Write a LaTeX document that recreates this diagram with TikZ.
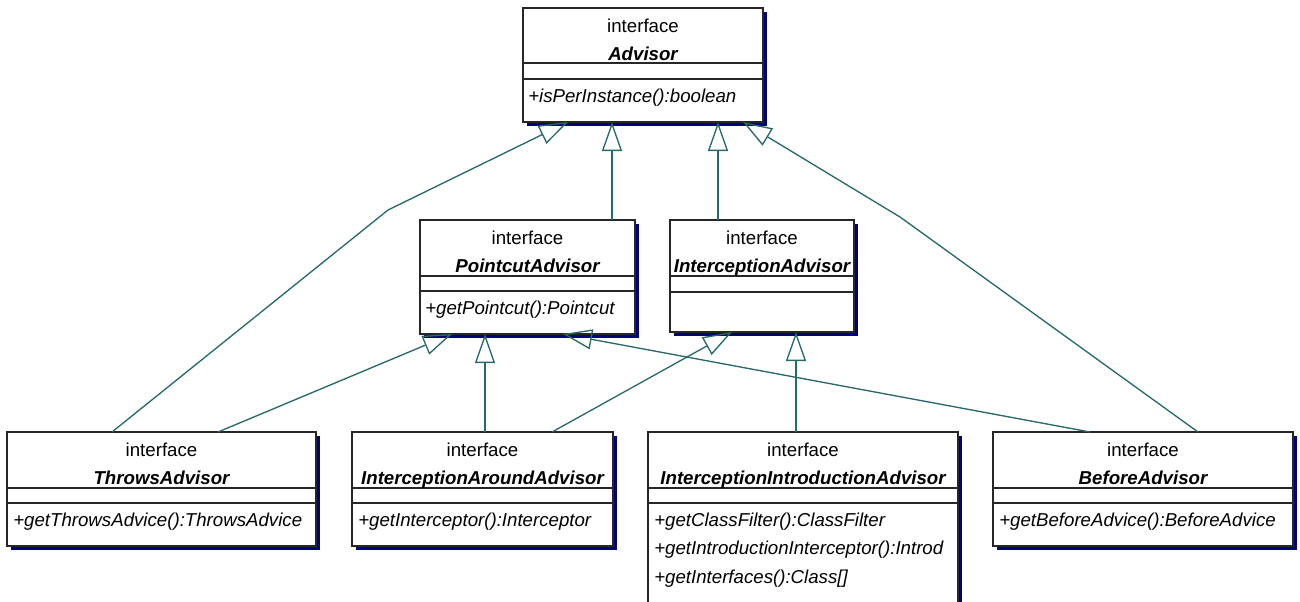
\documentclass[tikz,border=0pt]{standalone}
\usepackage{fontspec}
\setmainfont{Liberation Sans}
\usetikzlibrary{arrows.meta,calc,shadows}
\definecolor{conn}{RGB}{40,105,105}
\definecolor{shade}{RGB}{0,0,128}
\begin{document}
\begin{tikzpicture}[x=0.75pt,y=-0.75pt,
  cls/.style={draw=black!85, line width=1pt, fill=white, rectangle, inner sep=0pt, outer sep=0pt, anchor=north west,
    general shadow={fill=shade, shadow xshift=3pt, shadow yshift=-3pt}},
  stereo/.style={anchor=base, font=\fontsize{14}{16}\selectfont, inner sep=0pt},
  cname/.style={anchor=base, font=\fontsize{14}{16}\selectfont\bfseries\itshape, inner sep=0pt},
  meth/.style={anchor=base west, font=\fontsize{14}{16}\selectfont\itshape, inner sep=0pt},
  sep/.style={draw=black!85, line width=1pt},
  gen/.style={draw=conn, line width=1pt, -{Triangle[open, length=21.75pt, width=15pt]}}
]
\useasboundingbox (0,0) rectangle (1300,601);
\clip (0,0) rectangle (1300,601);

% ---------- Advisor ----------
\node[cls, minimum width=180pt, minimum height=85.5pt] (adv) at (523,8) {};
\draw[sep] ($(adv.north west)+(0,55)$) -- ($(adv.north east)+(0,55)$);
\draw[sep] ($(adv.north west)+(0,71)$) -- ($(adv.north east)+(0,71)$);
\node[stereo] (adv-s) at ($(adv.north)+(0,24.5)$) {interface};
\node[cname] (adv-n) at ($(adv.north)+(0,52)$) {Advisor};
\node[meth] (adv-m1) at ($(adv.north west)+(5,94)$) {+isPerInstance():boolean};

% ---------- PointcutAdvisor ----------
\node[cls, minimum width=161.25pt, minimum height=85.5pt] (pca) at (420,220) {};
\draw[sep] ($(pca.north west)+(0,56)$) -- ($(pca.north east)+(0,56)$);
\draw[sep] ($(pca.north west)+(0,71)$) -- ($(pca.north east)+(0,71)$);
\node[stereo] (pca-s) at ($(pca.north)+(0,24.5)$) {interface};
\node[cname] (pca-n) at ($(pca.north)+(0,52)$) {PointcutAdvisor};
\node[meth] (pca-m1) at ($(pca.north west)+(5,94)$) {+getPointcut():Pointcut};

% ---------- InterceptionAdvisor ----------
\node[cls, minimum width=138pt, minimum height=84pt] (iad) at (670,220) {};
\draw[sep] ($(iad.north west)+(0,56)$) -- ($(iad.north east)+(0,56)$);
\draw[sep] ($(iad.north west)+(0,72)$) -- ($(iad.north east)+(0,72)$);
\node[stereo] (iad-s) at ($(iad.north)+(0,24.5)$) {interface};
\node[cname] (iad-n) at ($(iad.north)+(0,52)$) {InterceptionAdvisor};

% ---------- ThrowsAdvisor ----------
\node[cls, minimum width=231.75pt, minimum height=85.5pt] (thr) at (7,432) {};
\draw[sep] ($(thr.north west)+(0,56)$) -- ($(thr.north east)+(0,56)$);
\draw[sep] ($(thr.north west)+(0,71)$) -- ($(thr.north east)+(0,71)$);
\node[stereo] (thr-s) at ($(thr.north)+(0,24.5)$) {interface};
\node[cname] (thr-n) at ($(thr.north)+(0,52)$) {ThrowsAdvisor};
\node[meth] (thr-m1) at ($(thr.north west)+(6,94)$) {+getThrowsAdvice():ThrowsAdvice};

% ---------- InterceptionAroundAdvisor ----------
\node[cls, minimum width=195.75pt, minimum height=85.5pt] (iaa) at (352,432) {};
\draw[sep] ($(iaa.north west)+(0,56)$) -- ($(iaa.north east)+(0,56)$);
\draw[sep] ($(iaa.north west)+(0,71)$) -- ($(iaa.north east)+(0,71)$);
\node[stereo] (iaa-s) at ($(iaa.north)+(0,24.5)$) {interface};
\node[cname] (iaa-n) at ($(iaa.north)+(0,52)$) {InterceptionAroundAdvisor};
\node[meth] (iaa-m1) at ($(iaa.north west)+(6,94)$) {+getInterceptor():Interceptor};

% ---------- InterceptionIntroductionAdvisor ----------
\node[cls, minimum width=232.5pt, minimum height=141pt] (iia) at (648,432) {};
\draw[sep] ($(iia.north west)+(0,56)$) -- ($(iia.north east)+(0,56)$);
\draw[sep] ($(iia.north west)+(0,71)$) -- ($(iia.north east)+(0,71)$);
\node[stereo] (iia-s) at ($(iia.north)+(0,24.5)$) {interface};
\node[cname] (iia-n) at ($(iia.north)+(0,52)$) {InterceptionIntroductionAdvisor};
\begin{scope}
  \clip (iia.north west) rectangle (iia.south east);
  \node[meth] (iia-m1) at ($(iia.north west)+(6,94)$) {+getClassFilter():ClassFilter};
  \node[meth] (iia-m2) at ($(iia.north west)+(6,122.5)$) {+getIntroductionInterceptor():Introd};
  \node[meth] (iia-m3) at ($(iia.north west)+(6,151)$) {+getInterfaces():Class[]};
\end{scope}

% ---------- BeforeAdvisor ----------
\node[cls, minimum width=225pt, minimum height=85.5pt] (bef) at (993,432) {};
\draw[sep] ($(bef.north west)+(0,56)$) -- ($(bef.north east)+(0,56)$);
\draw[sep] ($(bef.north west)+(0,71)$) -- ($(bef.north east)+(0,71)$);
\node[stereo] (bef-s) at ($(bef.north)+(0,24.5)$) {interface};
\node[cname] (bef-n) at ($(bef.north)+(0,52)$) {BeforeAdvisor};
\node[meth] (bef-m1) at ($(bef.north west)+(6,94)$) {+getBeforeAdvice():BeforeAdvice};

% ---------- connectors ----------
\coordinate (b1) at (388,210);
\coordinate (b2) at (900,217);

\draw[gen] ($(thr.north west)+(105,0)$) -- (b1) -- ($(adv.south west)+(45,0)$);
\coordinate (p2) at ($(pca.north west)+(192,0)$);
\draw[gen] (p2) -- (p2 |- adv.south);
\coordinate (p3) at ($(iad.north west)+(48,0)$);
\draw[gen] (p3) -- (p3 |- adv.south);
\draw[gen] ($(bef.north west)+(205,0)$) -- (b2) -- ($(adv.south west)+(220,0)$);

\draw[gen] ($(thr.north west)+(211,0)$) -- ($(pca.south west)+(32,0)$);
\coordinate (p6) at ($(iaa.north west)+(133,0)$);
\draw[gen] (p6) -- (p6 |- pca.south);
\draw[gen] ($(iaa.north west)+(200,0)$) -- ($(iad.south west)+(62,0)$);
\draw[gen] ($(bef.north west)+(97,0)$) -- ($(pca.south west)+(143,0)$);
\coordinate (p9) at ($(iia.north west)+(148,0)$);
\draw[gen] (p9) -- (p9 |- iad.south);
\end{tikzpicture}
\end{document}
